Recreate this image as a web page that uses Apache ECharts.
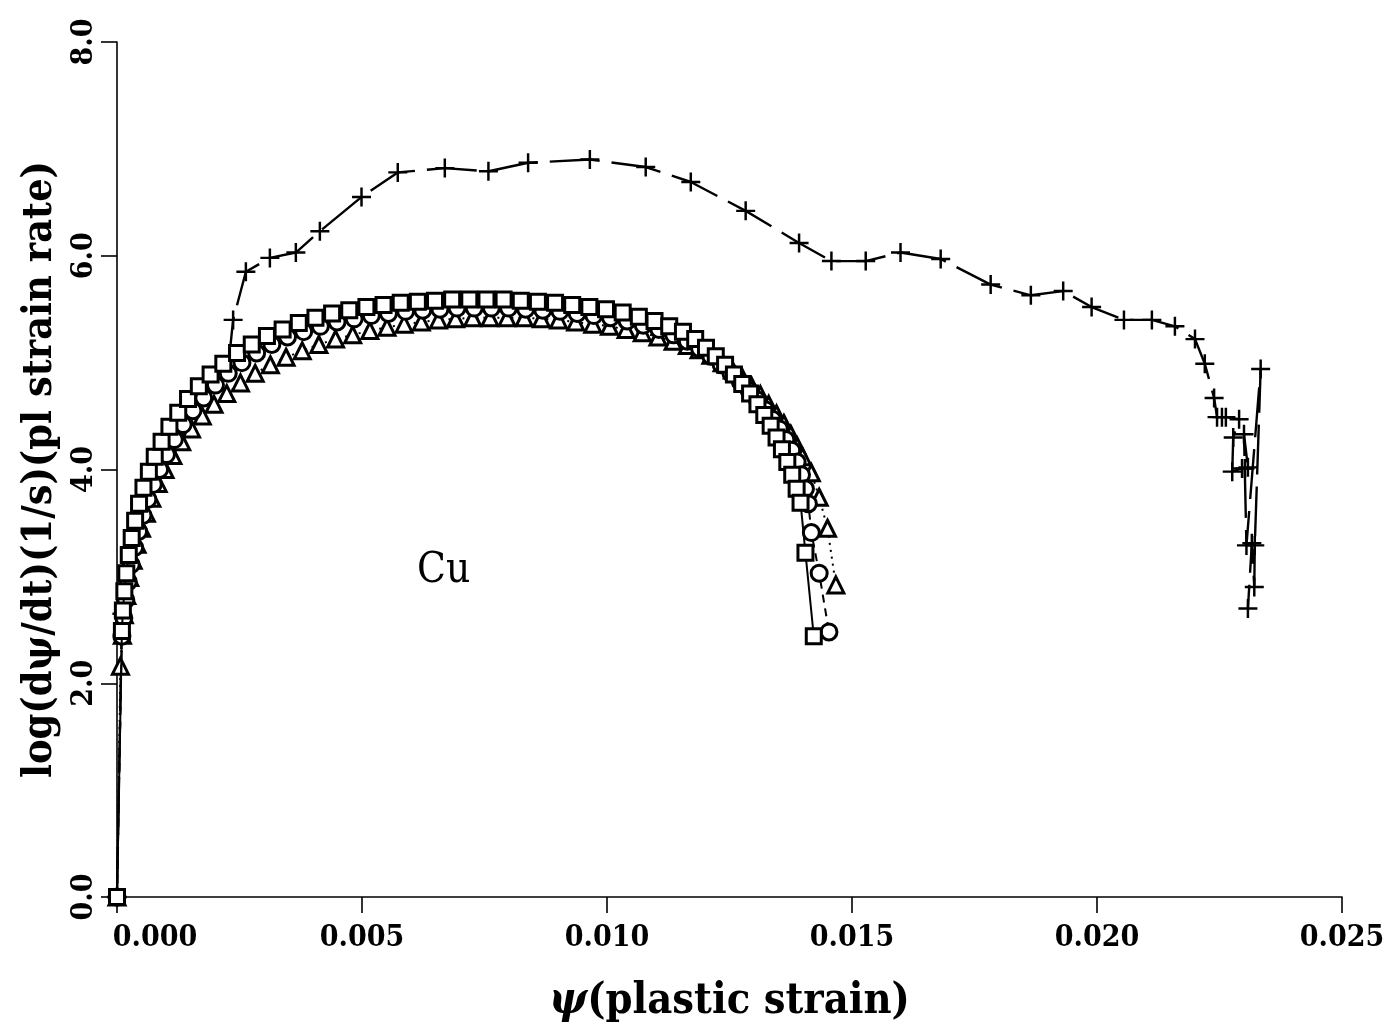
<!DOCTYPE html>
<html>
<head>
<meta charset="utf-8">
<script src="https://cdn.jsdelivr.net/npm/echarts@6/dist/echarts.min.js"></script>
<style>
html,body{margin:0;padding:0;background:#fff;}
#chart{width:1400px;height:1029px;}
</style>
</head>
<body>
<div id="chart"></div>
<script>
// ---- data ----
const xTicks = [0.000, 0.005, 0.010, 0.015, 0.020, 0.025];
const yTicks = [0.0, 2.0, 4.0, 6.0, 8.0];

// "+" series (long dashed line)
const plusX = [0, 0.00010, 0.00040, 0.00100, 0.00170, 0.00229, 0.00237, 0.00263, 0.00312, 0.00365, 0.00414, 0.00499, 0.00573, 0.00669, 0.00758, 0.00839, 0.00965, 0.01079, 0.01171, 0.01283, 0.01392, 0.01458, 0.01528, 0.01599, 0.01681, 0.01783, 0.01865, 0.01931, 0.01989, 0.02055, 0.02112, 0.02159, 0.02200, 0.02220, 0.02239, 0.02245, 0.02255, 0.02263, 0.02290, 0.02278, 0.02276, 0.02296, 0.02302, 0.02308, 0.02300, 0.02305, 0.02334, 0.02322, 0.02321, 0.02316, 0.02308];
const plusY = [0, 2.65, 3.55, 4.25, 4.70, 5.05, 5.40, 5.85, 5.98, 6.03, 6.23, 6.55, 6.78, 6.82, 6.79, 6.87, 6.90, 6.83, 6.69, 6.42, 6.12, 5.95, 5.95, 6.03, 5.97, 5.73, 5.63, 5.67, 5.52, 5.40, 5.40, 5.34, 5.22, 4.99, 4.67, 4.49, 4.49, 4.49, 4.47, 4.30, 3.98, 4.01, 4.01, 4.02, 4.33, 3.29, 4.94, 3.29, 2.90, 3.31, 2.70];

// square series (solid line)
const sqX = [0, 0.00010, 0.00012, 0.00015, 0.00019, 0.00024, 0.00030, 0.00037, 0.00045, 0.00054, 0.00065, 0.00077, 0.00091, 0.00107, 0.00125, 0.00145, 0.00167, 0.00191, 0.00217, 0.00245, 0.00275, 0.00306, 0.00338, 0.00371, 0.00405, 0.00439, 0.00474, 0.00509, 0.00544, 0.00579, 0.00614, 0.00649, 0.00684, 0.00719, 0.00754, 0.00789, 0.00824, 0.00859, 0.00894, 0.00929, 0.00964, 0.00998, 0.01032, 0.01065, 0.01097, 0.01127, 0.01155, 0.01180, 0.01202, 0.01222, 0.01241, 0.01259, 0.01276, 0.01292, 0.01307, 0.01321, 0.01334, 0.01346, 0.01357, 0.01368, 0.01378, 0.01387, 0.01395, 0.01405, 0.01422];
const sqY = [0, 2.49, 2.68, 2.86, 3.03, 3.20, 3.36, 3.52, 3.68, 3.83, 3.98, 4.12, 4.26, 4.40, 4.53, 4.66, 4.78, 4.89, 4.99, 5.09, 5.17, 5.25, 5.31, 5.37, 5.42, 5.46, 5.49, 5.52, 5.54, 5.56, 5.57, 5.58, 5.59, 5.59, 5.59, 5.59, 5.58, 5.57, 5.56, 5.54, 5.52, 5.50, 5.47, 5.43, 5.39, 5.34, 5.29, 5.22, 5.14, 5.06, 4.98, 4.89, 4.80, 4.71, 4.61, 4.51, 4.41, 4.30, 4.19, 4.07, 3.95, 3.82, 3.69, 3.22, 2.44];

// circle series (dashed line)
const circX = [0, 0.00010, 0.00014, 0.00018, 0.00023, 0.00029, 0.00036, 0.00044, 0.00053, 0.00063, 0.00074, 0.00087, 0.00101, 0.00117, 0.00135, 0.00155, 0.00177, 0.00201, 0.00227, 0.00255, 0.00285, 0.00316, 0.00348, 0.00381, 0.00415, 0.00449, 0.00484, 0.00519, 0.00554, 0.00589, 0.00624, 0.00659, 0.00694, 0.00729, 0.00764, 0.00799, 0.00834, 0.00869, 0.00904, 0.00939, 0.00973, 0.01007, 0.01041, 0.01074, 0.01106, 0.01136, 0.01164, 0.01189, 0.01212, 0.01233, 0.01253, 0.01272, 0.01290, 0.01307, 0.01323, 0.01338, 0.01352, 0.01365, 0.01377, 0.01388, 0.01397, 0.01405, 0.01411, 0.01417, 0.01433, 0.01453];
const circY = [0, 2.44, 2.61, 2.78, 2.95, 3.11, 3.27, 3.42, 3.57, 3.72, 3.86, 4.00, 4.14, 4.28, 4.42, 4.55, 4.67, 4.79, 4.90, 5.00, 5.09, 5.17, 5.24, 5.29, 5.34, 5.38, 5.41, 5.44, 5.46, 5.48, 5.49, 5.50, 5.51, 5.51, 5.51, 5.51, 5.50, 5.49, 5.48, 5.46, 5.44, 5.42, 5.39, 5.35, 5.31, 5.26, 5.20, 5.13, 5.06, 4.98, 4.90, 4.82, 4.74, 4.65, 4.56, 4.47, 4.38, 4.28, 4.18, 4.07, 3.95, 3.82, 3.68, 3.41, 3.03, 2.48];

// triangle series (dotted line)
const triX = [0, 0.00007, 0.00011, 0.00015, 0.00020, 0.00026, 0.00033, 0.00041, 0.00050, 0.00060, 0.00071, 0.00084, 0.00098, 0.00114, 0.00132, 0.00152, 0.00174, 0.00198, 0.00224, 0.00252, 0.00282, 0.00313, 0.00345, 0.00378, 0.00412, 0.00446, 0.00481, 0.00516, 0.00551, 0.00586, 0.00621, 0.00656, 0.00691, 0.00726, 0.00761, 0.00796, 0.00831, 0.00866, 0.00901, 0.00936, 0.00971, 0.01005, 0.01039, 0.01072, 0.01104, 0.01135, 0.01164, 0.01188, 0.01212, 0.01235, 0.01256, 0.01276, 0.01295, 0.01313, 0.01330, 0.01346, 0.01361, 0.01375, 0.01388, 0.01399, 0.01417, 0.01433, 0.01450, 0.01467];
const triY = [0, 2.16, 2.45, 2.64, 2.82, 2.99, 3.15, 3.30, 3.45, 3.59, 3.73, 3.87, 4.00, 4.13, 4.26, 4.38, 4.50, 4.61, 4.71, 4.81, 4.90, 4.98, 5.05, 5.11, 5.17, 5.22, 5.26, 5.30, 5.33, 5.36, 5.38, 5.40, 5.41, 5.42, 5.42, 5.42, 5.42, 5.41, 5.40, 5.38, 5.36, 5.34, 5.31, 5.28, 5.24, 5.20, 5.16, 5.12, 5.07, 5.00, 4.93, 4.86, 4.78, 4.70, 4.61, 4.52, 4.43, 4.33, 4.22, 4.12, 3.97, 3.74, 3.45, 2.92];

const annotationText = 'Cu';
const xTitle = '{i|ψ}(plastic strain)';
const yTitle = 'log(dψ/dt)(1/s)(pl strain rate)';

// ---- build ----
const zip = (xs, ys) => xs.map((x, i) => [x, ys[i]]);
const serifFont = '"DejaVu Serif Condensed", "DejaVu Serif", serif';
const PLUS = 'path://M8.7,0 H11.3 V8.7 H20 V11.3 H11.3 V20 H8.7 V11.3 H0 V8.7 H8.7 Z';

const chart = echarts.init(document.getElementById('chart'), null, {renderer: 'canvas'});
chart.setOption({
  animation: false,
  backgroundColor: '#fff',
  grid: {left: 117, right: 58, top: 42, bottom: 131, containLabel: false},
  xAxis: {
    type: 'value', min: 0, max: 0.025, interval: 0.005,
    axisLine: {show: true, onZero: false, lineStyle: {color: '#000', width: 1.6}},
    axisTick: {show: true, inside: false, length: 16, lineStyle: {color: '#000', width: 1.6}, customValues: xTicks},
    axisLabel: {margin: 26, color: '#000', fontFamily: serifFont, fontWeight: 'bold', fontSize: 30,
      customValues: xTicks,
      formatter: v => (v === 0 ? '{first|' + v.toFixed(3) + '}' : v.toFixed(3)),
      rich: {first: {padding: [0, 0, 0, 76], color: '#000', fontFamily: serifFont, fontWeight: 'bold', fontSize: 30}}},
    splitLine: {show: false},
    name: xTitle, nameLocation: 'middle', nameGap: 82,
    nameTextStyle: {color: '#000', fontFamily: serifFont, fontWeight: 'bold', fontSize: 43,
      rich: {i: {fontStyle: 'italic', fontFamily: serifFont, fontWeight: 'bold', fontSize: 45, color: '#000'}}}
  },
  yAxis: {
    type: 'value', min: 0, max: 8, interval: 2,
    axisLine: {show: true, onZero: false, lineStyle: {color: '#000', width: 1.6}},
    axisTick: {show: true, inside: false, length: 16, lineStyle: {color: '#000', width: 1.6}, customValues: yTicks},
    axisLabel: {margin: 18, rotate: 90, color: '#000', fontFamily: serifFont, fontWeight: 'bold', fontSize: 30,
      customValues: yTicks, formatter: v => v.toFixed(1)},
    splitLine: {show: false},
    name: yTitle, nameLocation: 'middle', nameGap: 48, nameRotate: 90,
    nameTextStyle: {color: '#000', fontFamily: serifFont, fontWeight: 'bold', fontSize: 41}
  },
  graphic: [{
    type: 'text', left: 417, top: 550,
    style: {text: annotationText, fontFamily: serifFont, fontSize: 42, fill: '#000'}
  }],
  series: [
    {
      type: 'line', name: 'plus', data: zip(plusX, plusY), z: 2,
      symbol: PLUS, symbolSize: 19,
      itemStyle: {color: '#000', borderWidth: 0},
      lineStyle: {color: '#000', width: 2.4, type: [50, 12]}
    },
    {
      type: 'line', name: 'triangle', data: zip(triX, triY), z: 3,
      symbol: 'triangle', symbolSize: 16,
      itemStyle: {color: '#fff', borderColor: '#000', borderWidth: 3},
      lineStyle: {color: '#000', width: 2, type: [2, 5]}
    },
    {
      type: 'line', name: 'circle', data: zip(circX, circY), z: 4,
      symbol: 'circle', symbolSize: 16,
      itemStyle: {color: '#fff', borderColor: '#000', borderWidth: 3},
      lineStyle: {color: '#000', width: 2, type: [8, 6]}
    },
    {
      type: 'line', name: 'square', data: zip(sqX, sqY), z: 5,
      symbol: 'rect', symbolSize: 15,
      itemStyle: {color: '#fff', borderColor: '#000', borderWidth: 3},
      lineStyle: {color: '#000', width: 2, type: 'solid'}
    }
  ]
});
</script>
</body>
</html>
